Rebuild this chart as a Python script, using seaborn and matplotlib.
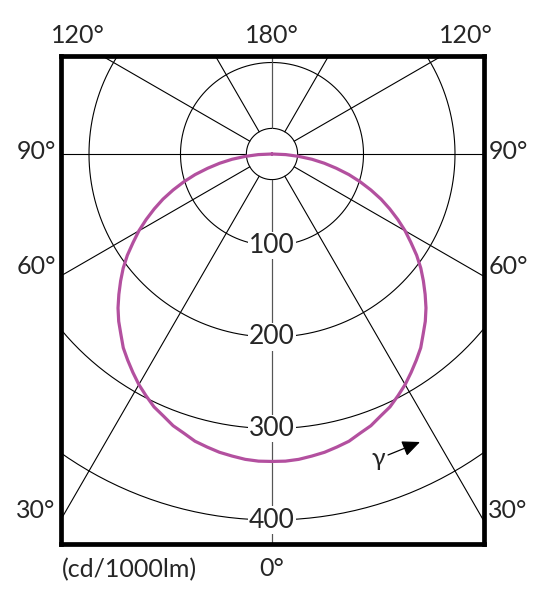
import numpy as np
import pandas as pd
import matplotlib
matplotlib.use('Agg')
import matplotlib.pyplot as plt
import seaborn as sns

# ---------------- data ----------------
# gamma angle (deg, 0 = straight down) and intensity in cd/1000lm
gamma = [0, 2.5, 5, 7.5, 10, 12.5, 15, 17.5, 20, 22.5, 25, 27.5, 30, 32.5, 35, 37.5,
         40, 42.5, 45, 47.5, 50, 52.5, 55, 57.5, 60, 62.5, 65, 67.5, 70, 72.5, 75,
         77.5, 80, 82.5, 85, 87.5, 90]
intensity = [336, 336, 335, 333, 331, 328, 325, 320, 316, 310, 305, 298, 291, 283,
             275, 267, 257, 248, 238, 227, 216, 205, 193, 180, 168, 155, 142, 129,
             115, 101, 87, 72, 58, 44, 29, 15, 0]

ring_values = [100, 200, 300, 400]
ring_labels = ['100', '200', '300', '400']
spoke_angles = [0, 30, 60, 90, 120, 150, 180]
hub_radius = 28

sns.set_style('white')
plt.rcParams['font.family'] = ['Lato', 'DejaVu Sans']

# both halves of the curve (C0-180 and C180-360 are the same here)
ang = np.array([-g for g in gamma[::-1]] + gamma[1:])
val = np.array(intensity[::-1] + intensity[1:])
curve = pd.DataFrame({'x': val * np.sin(np.radians(ang)),
                      'y': -val * np.cos(np.radians(ang))})

W, H = 553, 613
fig = plt.figure(figsize=(W / 100, H / 100), dpi=100)

# frame position in pixels
left, right, top, bottom = 61, 484, 56, 543.5
ax = fig.add_axes([left / W, 1 - bottom / H, (right - left) / W, (bottom - top) / H])

scale = 0.915     # px per cd/klm
cx, cy = 272, 154  # centre of the diagram in pixels
ax.set_xlim((left - cx) / scale, (right - cx) / scale)
ax.set_ylim((cy - bottom) / scale, (cy - top) / scale)
ax.set_aspect('equal')

t = np.linspace(0, 2 * np.pi, 400)

# rings
for r in ring_values:
    ax.plot(r * np.sin(t), r * np.cos(t), color='black', lw=0.8, zorder=1)
ax.plot(hub_radius * np.sin(t), hub_radius * np.cos(t), color='black', lw=0.8, zorder=1)

# spokes, both sides
for a in spoke_angles:
    for s in (1, -1):
        rad = np.radians(s * a)
        col = '#555555' if a in (0, 180) else 'black'
        ax.plot([hub_radius * np.sin(rad), 900 * np.sin(rad)],
                [-hub_radius * np.cos(rad), -900 * np.cos(rad)],
                color=col, lw=0.8, zorder=1)

fs = 18

# ring labels on the 0 deg spoke
for r, lab in zip(ring_values, ring_labels):
    ax.text(0, -r, lab, ha='center', va='center', fontsize=fs + 1, zorder=3,
            bbox=dict(boxstyle='square,pad=0.05', fc='white', ec='none'))

# intensity curve
sns.lineplot(data=curve, x='x', y='y', sort=False, estimator=None,
             color='#b3509f', lw=2.3, ax=ax, zorder=2)

for sp in ax.spines.values():
    sp.set_linewidth(3.4)
    sp.set_color('black')
ax.set_xticks([])
ax.set_yticks([])
ax.set_xlabel('')
ax.set_ylabel('')


def px(x, y):
    return (x - cx) / scale, (cy - y) / scale


for (x, y), lab in [((78, 35), '120°'), ((272, 35), '180°'), ((466, 35), '120°'),
                    ((36, 151), '90°'), ((508, 151), '90°'),
                    ((36, 267), '60°'), ((508, 267), '60°'),
                    ((36, 511), '30°'), ((508, 511), '30°'),
                    ((272, 569), '0°')]:
    xx, yy = px(x, y)
    ax.text(xx, yy, lab, ha='center', va='center', fontsize=fs, clip_on=False)

xx, yy = px(62, 570)
ax.text(xx, yy, '(cd/1000lm)', ha='left', va='center', fontsize=fs, clip_on=False)

xx, yy = px(378, 458)
ax.text(xx, yy, 'γ', ha='center', va='center', fontsize=fs)
ax.annotate('', xy=px(420, 442), xytext=px(388, 455),
            arrowprops=dict(arrowstyle='-|>,head_length=0.9,head_width=0.4',
                            color='black', lw=0.9, mutation_scale=12,
                            shrinkA=0, shrinkB=0))

fig.savefig('out.png', dpi=100)
